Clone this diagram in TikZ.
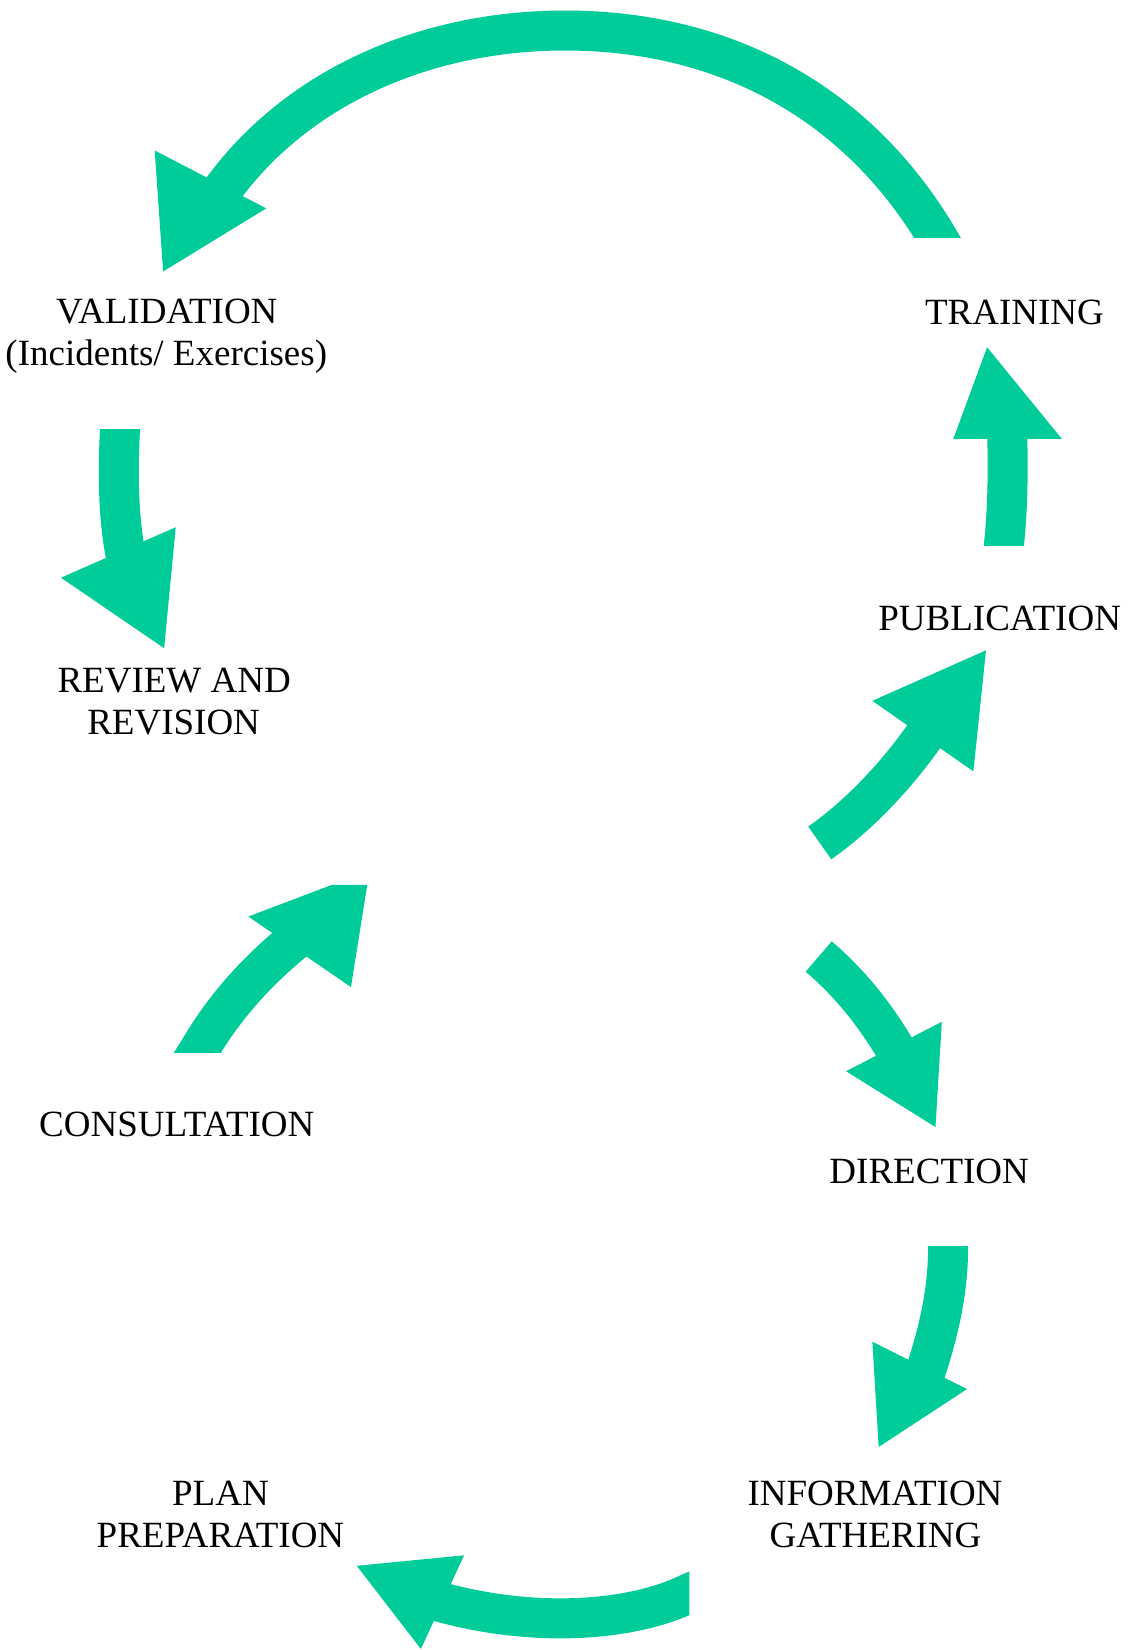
\documentclass[tikz,border=0pt]{standalone}
\usepackage{fontspec}
\setmainfont{Liberation Serif}
\definecolor{cyclegreen}{RGB}{0,204,153}
\tikzset{
  arcband/.style={draw=cyclegreen, line width=40pt},
  tipfill/.style={fill=cyclegreen},
  lbl/.style={anchor=base, inner sep=0pt, font=\fontsize{37}{42}\selectfont},
}
\begin{document}
\begin{tikzpicture}[x=1.0521pt, y=-1.0521pt]
\useasboundingbox (0,0) rectangle (1075,1568);

% labels
\node[lbl] (val1) at (158.5,307) {VALIDATION};
\node[lbl] (val2) at (158,347) {(Incidents/ Exercises)};
\node[lbl] (train) at (964,308) {TRAINING};
\node[lbl] (pub) at (950,599) {PUBLICATION};
\node[lbl] (rev1) at (165.5,658) {REVIEW AND};
\node[lbl] (rev2) at (165,698) {REVISION};
\node[lbl] (cons) at (168,1080) {CONSULTATION};
\node[lbl] (dir) at (883,1125) {DIRECTION};
\node[lbl] (plan1) at (209.5,1431) {PLAN};
\node[lbl] (plan2) at (209.5,1471) {PREPARATION};
\node[lbl] (info1) at (831.5,1431) {INFORMATION};
\node[lbl] (info2) at (832,1471) {GATHERING};

% arrow A: training -> validation
\coordinate (At) at (891,226);
\coordinate (Atop) at (537,29);
\coordinate (Ae) at (206,188);
\begin{scope}
\clip (0,0) rectangle (1075,226);
\draw[arcband] (901,243) -- (At) .. controls (810,90) and (680,29) .. (Atop) .. controls (400,29) and (276,86) .. (Ae);
\end{scope}
\fill[tipfill] (147,143) -- (253,198) -- (155,258) -- cycle;

% arrow B: validation -> review
\coordinate (Bt) at (114,408);
\coordinate (Be) at (121,535);
\begin{scope}
\clip (0,408) rectangle (1075,700);
\draw[arcband] (114.6,395) -- (Bt) .. controls (112,450) and (112,495) .. (Be);
\end{scope}
\fill[tipfill] (58,549) -- (167,501) -- (156,616) -- cycle;

% arrow C: publication -> training
\coordinate (Ct) at (954,518);
\coordinate (Ce) at (957,405);
\begin{scope}
\clip (700,300) rectangle (1075,518);
\draw[arcband] (953.5,530) -- (Ct) .. controls (958,480) and (958,445) .. (Ce);
\end{scope}
\fill[tipfill] (906,417) -- (1009,417) -- (938,330) -- cycle;

% arrow D: -> publication
\coordinate (Dt) at (779,801);
\coordinate (De) at (886,688);
\draw[arcband] (Dt) .. controls (815,776) and (855,735) .. (De);
\fill[tipfill] (829,666) -- (937,618) -- (925,733) -- cycle;

% arrow E: consultation ->
\coordinate (Et) at (188,1000);
\coordinate (Ee) at (287,888);
\begin{scope}
\clip (0,700) rectangle (600,1000);
\draw[arcband] (181,1011) -- (Et) .. controls (210,962) and (240,925) .. (Ee);
\end{scope}
\fill[tipfill] (236,871) -- (315,841) -- (349,841) -- (333.5,938) -- cycle;

% arrow F: -> direction
\coordinate (Ft) at (778,909);
\coordinate (Fe) at (856,1006);
\draw[arcband] (Ft) .. controls (805,932) and (832,963) .. (Fe);
\fill[tipfill] (804,1018) -- (895,971) -- (889,1071) -- cycle;

% arrow G: direction -> information gathering
\coordinate (Gt) at (901,1185);
\coordinate (Ge) at (876,1314);
\begin{scope}
\clip (600,1185) rectangle (1075,1400);
\draw[arcband] (901,1172) -- (Gt) .. controls (901,1230) and (891,1270) .. (Ge);
\end{scope}
\fill[tipfill] (829,1275) -- (919,1320) -- (835,1375) -- cycle;

% arrow H: information gathering -> plan preparation
\coordinate (Ht) at (655,1514);
\coordinate (He) at (410,1520);
\begin{scope}
\clip (300,1400) rectangle (655,1568);
\draw[arcband] (667,1509) -- (Ht) .. controls (600,1541) and (505,1548) .. (He);
\end{scope}
\fill[tipfill] (441,1478) -- (400,1567) -- (339,1488) -- cycle;

\end{tikzpicture}
\end{document}
